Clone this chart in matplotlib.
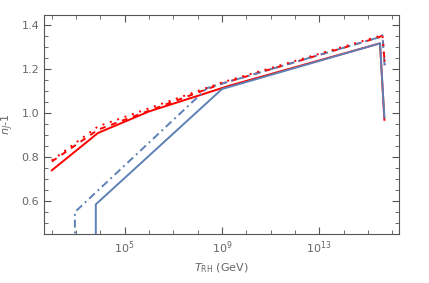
import matplotlib.pyplot as plt
from matplotlib.ticker import FixedLocator, NullFormatter
import numpy as np

# log10(T_RH / GeV) and n_J - 1
red_solid_logT = [2.0, 3.9, 6.0, 9.3, 15.5, 15.68]
red_solid_n = [0.74, 0.91, 1.008, 1.125, 1.318, 0.97]

red_dashed_logT = [2.0, 3.9, 9.0, 15.45, 15.6, 15.7]
red_dashed_n = [0.78, 0.925, 1.135, 1.345, 1.355, 1.22]

red_dotted_logT = [2.0, 3.9, 9.0, 15.45, 15.6, 15.7]
red_dotted_n = [0.785, 0.94, 1.14, 1.35, 1.357, 1.22]

blue_solid_logT = [3.81, 3.81, 9.0, 15.5, 15.68]
blue_solid_n = [0.40, 0.585, 1.11, 1.318, 0.98]

blue_dashdot_logT = [2.95, 2.95, 8.4, 15.45, 15.6, 15.7]
blue_dashdot_n = [0.40, 0.55, 1.115, 1.345, 1.355, 1.2]

red = '#ff0000'
blue = '#5e81b5'
gray = '#555555'

fig = plt.figure(figsize=(4.29, 2.83), dpi=100)
ax = fig.add_axes([0.1026, 0.173, 0.8274, 0.774])

ax.plot(10 ** np.array(red_solid_logT), red_solid_n, color=red, lw=1.4)
ax.plot(10 ** np.array(blue_solid_logT), blue_solid_n, color=blue, lw=1.4)
ax.plot(10 ** np.array(red_dashed_logT), red_dashed_n, color=red, lw=1.4,
        dashes=(3, 3))
ax.plot(10 ** np.array(blue_dashdot_logT), blue_dashdot_n, color=blue, lw=1.4,
        dashes=(4, 2, 1, 2))
ax.plot(10 ** np.array(red_dotted_logT), red_dotted_n, color=red, lw=1.4,
        dashes=(1, 3))

ax.set_xscale('log')
ax.set_xlim(10 ** 1.68, 10 ** 16.28)
ax.set_ylim(0.453, 1.447)

ax.xaxis.set_major_locator(FixedLocator([1e5, 1e9, 1e13]))
ax.xaxis.set_minor_locator(FixedLocator([10.0 ** k for k in range(2, 17)]))
ax.xaxis.set_minor_formatter(NullFormatter())
ax.set_yticks([0.6, 0.8, 1.0, 1.2, 1.4])
ax.set_yticks(np.arange(0.45, 1.45, 0.05), minor=True)

ax.tick_params(which='both', direction='in', top=True, right=True,
               color=gray, labelcolor='#666666', labelsize=8)
ax.tick_params(which='major', length=5)
ax.tick_params(which='minor', length=3)
for s in ax.spines.values():
    s.set_color(gray)

ax.set_xlabel(r'$T_{\rm RH}$ (GeV)', color='#666666', fontsize=8)
ax.set_ylabel(r'$n_J$-1', color='#666666', fontsize=8)

fig.savefig('out.png', dpi=100)
